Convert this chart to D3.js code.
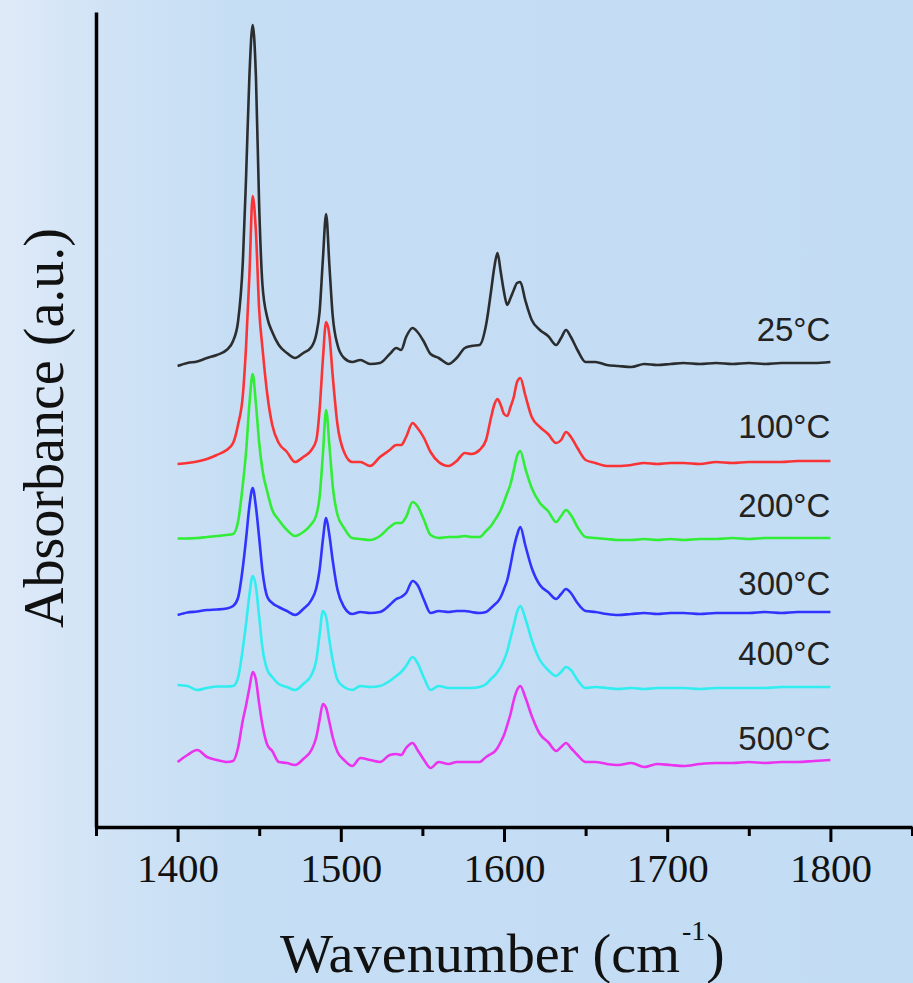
<!DOCTYPE html>
<html>
<head>
<meta charset="utf-8">
<script src="https://cdn.jsdelivr.net/npm/d3@7"></script>
<style>
html,body{margin:0;padding:0;overflow:hidden;background:#c4ddf4;}
svg{display:block;}
</style>
</head>
<body>
<svg id="chart" width="913" height="983"></svg>
<script>
// ---------------- DATA ----------------
const wavenumbers = [1400,1406,1412,1418,1424,1430,1434,1437,1440,1442,1444,1446,1448,1450,1452,1455,1458,1462,1467,1472,1477,1482,1485,1487,1489,1491,1493,1495,1498,1502,1507,1512,1518,1524,1530,1534,1537,1540,1544,1547,1551,1555,1560,1566,1571,1576,1580,1585,1589,1592,1594,1596,1598,1600,1602,1604,1606,1608,1610,1613,1617,1622,1627,1632,1635,1638,1641,1645,1650,1656,1663,1670,1678,1686,1694,1702,1710,1720,1730,1740,1750,1760,1770,1780,1790,1800];

const abs25C = [461,464,465.5,469,472,477,486,505,566,652,751,802,750,620,542,509,495,482,474,469,474,480,493,515,567,613,562,512,482,469,465,467,463,464,473,479,477,490,499,495,485,473,469,463,469,479,481,482,502,535,559,574,555,535,522,529,537,544,545,527,507,497,491,482,489,497,490,477,465,465,462,461,460,463,462,463,464,463,464,463,464,463,464,464,464,465];

const abs100C = [363,364,365.5,368,372,377,384,402,432,482,552,631,595,517,479,432,402,384,375,365,370,377,387,417,467,505,492,452,402,375,365,365,361,370,377,382,382,390,404,399,389,375,365,361,366,374,373,377,387,409,422,428,422,413,411,420,430,445,449,432,410,400,393,384,387,395,390,379,367,364,361,361,362,364,363,364,364,363,365,364,365,365,365,366,366,366];

const abs200C = [288.5,288.5,289,290,291,292,293,305,343,376,423,453,423,384,357,335,317,307,297,291,295,303,312,330,372,417,382,342,312,299,289,288,287,291,300,304,304,310,325,321,307,292,289,290,290,291,290,290,296,301,306,311,317,325,334,343,357,371,376,359,339,324,316,305,311,317,312,300,290,289,288,287,287,288,287,288,287,288,288,289,288,289,289,289,289,289];

const abs300C = [212,214.5,215.5,217,217.5,218.5,221,229,260,289,321,339,320,289,256,230,224,220,216,212,218,227,239,257,287,309,292,267,237,220,213,215,214,215,222,228,230,234,246,242,227,214,216,215,216,216,215,214,215,219,222,225,230,238,247,262,279,292,300,282,259,242,235,228,233,238,234,224,216,215,213,212,213,214,213,214,214,213,214,214,214,215,214,215,215,215];

const abs400C = [142,141,137,139,140.5,140.5,141,149,179,204,232,251,240,210,179,157,150,143,140,137,143,152,167,192,216,210,187,167,147,140,137,141,140,141,146,151,155,161,170,164,149,137,141,139,139,139,139,140,143,148,151,155,160,167,176,189,202,215,221,209,187,167,157,151,155,160,157,147,139,140,139,138,139,138,139,139,139,138,139,139,139,139,140,140,140,140];

const abs500C = [65,72,77,70,67,65,66,79,107,122,139,155,147,123,102,82,76,65,64,62,68,77,90,107,123,119,105,90,75,67,61,69,67,65,72,73,72,79,84,77,67,59,65,63,65,65,65,65,70,73,75,79,85,92,102,113,127,137,141,130,111,93,85,76,80,84,79,72,65,65,63,62,64,60,63,62,61,63,64,64,65,64,65,65,66,67];

const seriesLabels = ["25°C","100°C","200°C","300°C","400°C","500°C"];
const seriesValues = [abs25C, abs100C, abs200C, abs300C, abs400C, abs500C];
const labelAnchorValues = [486, 389, 310, 232, 162, 77];   // label baselines, in absorbance units
const majorTicks = [1400,1500,1600,1700,1800];
const minorTicks = [1350,1450,1550,1650,1750,1850];
const xDomain = [1350,1850];
const yDomain = [0,815];

// ---------------- STYLE ----------------
const seriesColors = ["#1a1a1a","#ff2020","#20ee20","#2020ff","#20eeee","#ee20ee"];
const W = 913, H = 983;
const plot = {left:96, right:912, top:12, bottom:827};

const svg = d3.select("#chart");

// background gradient
const defs = svg.append("defs");
const grad = defs.append("linearGradient").attr("id","bg").attr("x1","0").attr("x2","1").attr("y1","0").attr("y2","0");
grad.append("stop").attr("offset","0%").attr("stop-color","#dfeaf8");
grad.append("stop").attr("offset","10%").attr("stop-color","#d2e4f6");
grad.append("stop").attr("offset","25%").attr("stop-color","#c6def4");
grad.append("stop").attr("offset","100%").attr("stop-color","#c2dcf4");
svg.append("rect").attr("width",W).attr("height",H).attr("fill","url(#bg)");

const x = d3.scaleLinear().domain(xDomain).range([plot.left, plot.right]);
const y = d3.scaleLinear().domain(yDomain).range([plot.bottom, plot.top]);

// series
const line = d3.line()
  .x(d => x(d[0]))
  .y(d => y(d[1]))
  .curve(d3.curveMonotoneX);

const gLines = svg.append("g");
seriesValues.forEach((vals, i) => {
  const pts = wavenumbers.map((w, k) => [w, vals[k]]);
  gLines.append("path")
    .datum(pts)
    .attr("fill","none")
    .attr("stroke", seriesColors[i])
    .attr("stroke-width", 2.6)
    .attr("stroke-opacity", 0.9)
    .attr("stroke-linejoin","round")
    .attr("d", line);
});

// labels
const gLab = svg.append("g")
  .attr("font-family","'Liberation Sans', Arial, sans-serif")
  .attr("font-size", 33)
  .attr("fill","#222");
seriesLabels.forEach((t, i) => {
  gLab.append("text")
    .attr("x", x(1800))
    .attr("y", y(labelAnchorValues[i]))
    .attr("text-anchor","end")
    .text(t);
});

// axes
const serif = "'Liberation Serif','Times New Roman',serif";
const xAxisMajor = d3.axisBottom(x).tickValues(majorTicks).tickSize(15).tickSizeOuter(0).tickFormat(d3.format("d"));
const gx = svg.append("g").attr("transform",`translate(0,${plot.bottom})`).call(xAxisMajor);
gx.select(".domain").attr("stroke","#000").attr("stroke-width",3.5);
gx.selectAll(".tick line").attr("stroke","#000").attr("stroke-width",3);
gx.selectAll(".tick text")
  .attr("font-family", serif)
  .attr("font-size", 41)
  .attr("fill","#111")
  .attr("y", 55).attr("dy", 0);

const xAxisMinor = d3.axisBottom(x).tickValues(minorTicks).tickSize(9).tickSizeOuter(0).tickFormat("");
const gxm = svg.append("g").attr("transform",`translate(0,${plot.bottom})`).call(xAxisMinor);
gxm.select(".domain").remove();
gxm.selectAll(".tick line").attr("stroke","#000").attr("stroke-width",3);

const yAxis = d3.axisLeft(y).tickValues([]).tickSizeOuter(0);
const gy = svg.append("g").attr("transform",`translate(${plot.left},0)`).call(yAxis);
gy.select(".domain").attr("stroke","#000").attr("stroke-width",3.5);

// axis titles
const xt = svg.append("text")
  .attr("font-family", serif)
  .attr("font-size", 55)
  .attr("fill","#111")
  .attr("x", 280).attr("y", 972);
xt.append("tspan").attr("textLength", 400).attr("lengthAdjust","spacingAndGlyphs").text("Wavenumber (cm");
xt.append("tspan").attr("font-size", 28).attr("dy", -32).attr("dx", 2).text("-1");
xt.append("tspan").attr("dy", 32).attr("dx", 1).text(")");

svg.append("text")
  .attr("font-family", serif)
  .attr("font-size", 56)
  .attr("fill","#111")
  .attr("text-anchor","middle")
  .attr("textLength", 400)
  .attr("lengthAdjust","spacingAndGlyphs")
  .attr("transform","translate(63,428) rotate(-90)")
  .text("Absorbance (a.u.)");
</script>
</body>
</html>
